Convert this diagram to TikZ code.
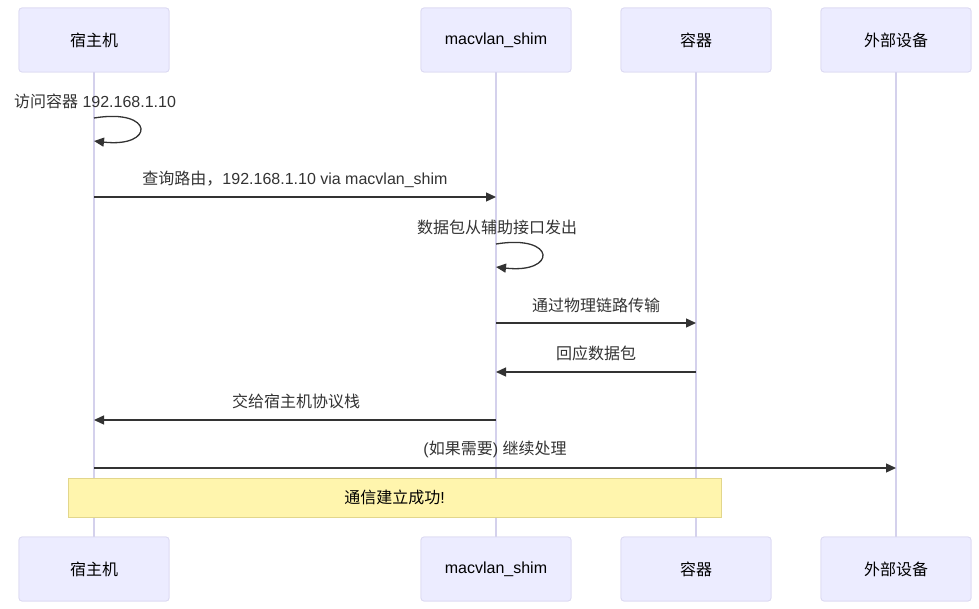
\documentclass[tikz,border=0pt]{standalone}
\usepackage{fontspec}
\setmainfont{Liberation Sans}
\newfontfamily\cjk{Noto Sans CJK SC}
\usetikzlibrary{arrows.meta}

\definecolor{actorfill}{HTML}{ECECFF}
\definecolor{actorline}{HTML}{DCDAF2}
\definecolor{lifeline}{HTML}{D4D1EC}
\definecolor{msgline}{HTML}{333333}
\definecolor{notefill}{HTML}{FFF5AD}
\definecolor{noteline}{HTML}{E2D68C}

\begin{document}
\begin{tikzpicture}[x=1pt,y=-1pt,
  actor/.style={draw=actorline, fill=actorfill, rounded corners=3pt, line width=0.8pt,
    minimum width=150pt, minimum height=64pt, font=\fontsize{16}{18}\selectfont, text=black},
  life/.style={draw=lifeline, line width=1.5pt},
  msg/.style={draw=msgline, line width=1.3pt, -{Triangle[length=10pt,width=9pt]}},
  lbl/.style={font=\fontsize{16}{18}\selectfont, text=msgline},
  notebox/.style={draw=noteline, fill=notefill, line width=1pt, font=\fontsize{16}{18}\selectfont}]
\useasboundingbox (0,0) rectangle (979,609);

% Draw actors
\node[actor] (host) at (94,40) {};
\node[actor] (shim) at (496,40) {};
\node[actor] (ctr) at (696,40) {};
\node[actor] (ext) at (896,40) {};
\node[actor] (hostB) at (94,569) {};
\node[actor] (shimB) at (496,569) {};
\node[actor] (ctrB) at (696,569) {};
\node[actor] (extB) at (896,569) {};

% Draw lifelines, then the boxes again on top
\draw[life] (host) -- (hostB);
\draw[life] (shim) -- (shimB);
\draw[life] (ctr) -- (ctrB);
\draw[life] (ext) -- (extB);
\foreach \a/\t in {host/{\cjk 宿主机},shim/macvlan\_shim,ctr/{\cjk 容器},ext/{\cjk 外部设备}} {
  \node[actor] at (\a) {\t};
  \node[actor] at (\a B) {\t};
}

% Self message on host
\node[lbl] (m1) at (95,101) {{\cjk 访问容器} 192.168.1.10};
\draw[msg] (host |- 0,118) .. controls (155,108) and (155,148) .. (host |- 0,141);

% Messages
\node[lbl] (m2) at (295,179) {{\cjk 查询路由，}192.168.1.10 via macvlan\_shim};
\draw[msg] (host |- 0,197) -- (shim |- 0,197);

\node[lbl] (m3) at (497,227) {\cjk 数据包从辅助接口发出};
\draw[msg] (shim |- 0,244) .. controls (557,234) and (557,274) .. (shim |- 0,267);

\node[lbl] (m4) at (596,305) {\cjk 通过物理链路传输};
\draw[msg] (shim |- 0,323) -- (ctr |- 0,323);

\node[lbl] (m5) at (596,353) {\cjk 回应数据包};
\draw[msg] (ctr |- 0,372) -- (shim |- 0,372);

\node[lbl] (m6) at (296,401) {\cjk 交给宿主机协议栈};
\draw[msg] (shim |- 0,420) -- (host |- 0,420);

\node[lbl] (m7) at (495,449) {({\cjk 如果需要}) {\cjk 继续处理}};
\draw[msg] (host |- 0,468) -- (ext |- 0,468);

% Note over the lifelines
\node[notebox, minimum width=653pt, minimum height=39pt] (note) at (394.5,497.5) {{\cjk 通信建立成功}!};
\end{tikzpicture}
\end{document}
